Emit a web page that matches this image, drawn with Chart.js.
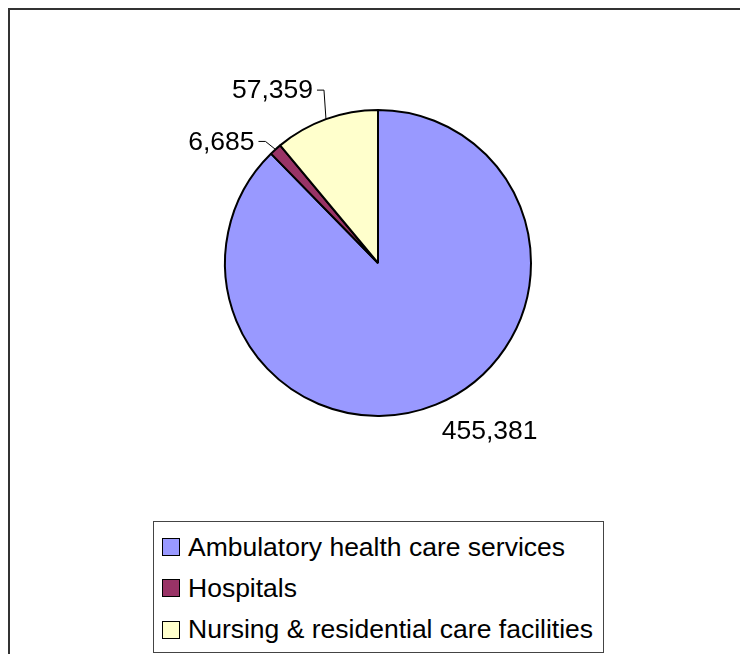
<!DOCTYPE html>
<html>
<head>
<meta charset="utf-8">
<script src="https://cdn.jsdelivr.net/npm/chart.js@4/dist/chart.umd.min.js"></script>
<style>
  html, body { margin: 0; padding: 0; background: #fff; overflow: hidden; }
  body { width: 740px; height: 654px; position: relative; font-family: "Liberation Sans", Arial, sans-serif; }
  #frame { position: absolute; left: 8px; top: 8px; width: 900px; height: 800px; border-top: 2px solid #333; border-left: 2px solid #333; }
  #myChart { position: absolute; left: 0; top: 0; }
  #legend { position: absolute; left: 153px; top: 521px; width: 449px; height: 130px; border: 1px solid #444; background: #fff; }
  .row { position: absolute; left: 8px; height: 20px; display: flex; align-items: center; font-size: 26.5px; color: #000; white-space: nowrap; }
  .sw { width: 16px; height: 16px; border: 1px solid #000; margin-right: 8px; }
</style>
</head>
<body>
<div id="frame"></div>
<canvas id="myChart" width="740" height="654"></canvas>
<div id="legend"></div>
<script>
// 카테고리와 값
const categories = ['Ambulatory health care services', 'Hospitals', 'Nursing & residential care facilities'];
const values = [455381, 6685, 57359];

// 색상
const colors = ['#9999FF', '#993366', '#FFFFCC'];

// 라벨 위치 (조각 가장자리 기준 오프셋)
const labelPlacement = [
    { dx: 6, dy: 27, leader: false },
    { dx: -10, dy: -8, leader: true },
    { dx: -2, dy: -29, leader: true },
];

// 데이터 라벨 플러그인
const pieLabels = {
    id: 'pieLabels',
    afterDatasetsDraw(chart) {
        const ctx = chart.ctx;
        const meta = chart.getDatasetMeta(0);
        ctx.save();
        ctx.font = '26.5px "Liberation Sans", Arial, sans-serif';
        ctx.fillStyle = '#000';
        ctx.strokeStyle = '#000';
        ctx.lineWidth = 1;
        meta.data.forEach((arc, i) => {
            const p = arc.getProps(['x', 'y', 'startAngle', 'endAngle', 'outerRadius'], true);
            const mid = (p.startAngle + p.endAngle) / 2;
            const ex = p.x + Math.cos(mid) * p.outerRadius;
            const ey = p.y + Math.sin(mid) * p.outerRadius;
            const pl = labelPlacement[i];
            const text = values[i].toLocaleString('en-US');
            if (pl.leader) {
                const bx = ex + pl.dx, by = ey + pl.dy;
                ctx.beginPath();
                ctx.moveTo(ex, ey);
                ctx.lineTo(bx, by);
                ctx.lineTo(bx - 7, by);
                ctx.stroke();
                ctx.textAlign = 'right';
                ctx.textBaseline = 'middle';
                ctx.fillText(text, bx - 11, by + 1);
            } else {
                ctx.textAlign = 'left';
                ctx.textBaseline = 'middle';
                ctx.fillText(text, ex + pl.dx, ey + pl.dy);
            }
        });
        ctx.restore();
    }
};

// 차트 생성
const myChart = new Chart(document.getElementById('myChart'), {
    type: 'pie',
    data: {
        labels: categories,
        datasets: [{
            data: values,
            backgroundColor: colors,
            borderColor: '#000',
            borderWidth: 2,
            clip: false,
        }],
    },
    options: {
        responsive: false,
        animation: false,
        radius: 153,
        layout: { padding: { left: 225, right: 209, top: 110, bottom: 238 } },
        plugins: {
            legend: { display: false },
            tooltip: { enabled: false },
        },
    },
    plugins: [pieLabels],
});

// 범례 (HTML)
const legend = document.getElementById('legend');
const rowCenters = [25, 66, 107.5];
categories.forEach((c, i) => {
    const row = document.createElement('div');
    row.className = 'row';
    row.style.top = (rowCenters[i] - 10) + 'px';
    const sw = document.createElement('span');
    sw.className = 'sw';
    sw.style.background = colors[i];
    const t = document.createElement('span');
    t.textContent = c;
    row.appendChild(sw);
    row.appendChild(t);
    legend.appendChild(row);
});
</script>
</body>
</html>
